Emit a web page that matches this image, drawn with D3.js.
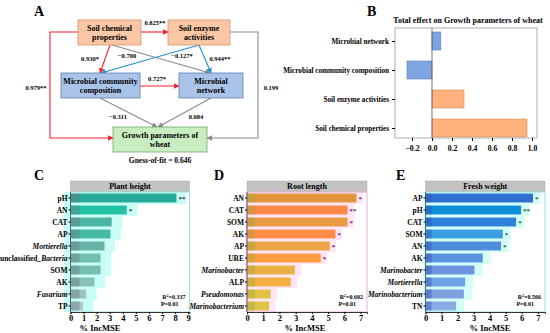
<!DOCTYPE html>
<html><head><meta charset="utf-8">
<script src="https://cdn.jsdelivr.net/npm/d3@7"></script>
<style>
body{margin:0;background:#fff;}
svg text{font-family:"Liberation Serif","Times New Roman",serif;font-weight:bold;fill:#000;}
</style></head><body>
<div id="chart"></div>
<script>
// ---- data ----
const pathCoefs = ["0.825**", "0.930*", "\u22120.700", "\u22120.127*", "0.944**", "0.727*", "\u22120.311", "0.084", "0.979**", "0.199"];
const fitLabel = "Gness-of-fit = 0.646";

const effectCats = ["Microbial network", "Microbial community composition", "Soil enzyme activities", "Soil chemical properties"];
const effectVals = [0.088, -0.25, 0.32, 0.95];
const effectTicks = [-0.2, 0, 0.2, 0.4, 0.6, 0.8, 1.0];

const heightCats = ["pH", "AN", "CAT", "AP", "Mortierella", "unclassified_Bacteria", "SOM", "AK", "Fusarium", "TP"];
const heightVals = [8.1, 4.3, 3.15, 3.05, 2.6, 2.3, 2.3, 1.83, 1.2, 0.95];
const heightSig = ["**", "*", "", "", "", "", "", "", "", ""];

const rootCats = ["AN", "CAT", "SOM", "AK", "AP", "URE", "Marinobacter", "ALP", "Pseudomonas", "Marinobacterium"];
const rootVals = [6.75, 6.2, 6.2, 5.46, 5.1, 4.55, 2.95, 2.7, 1.46, 1.36];
const rootSig = ["*", "**", "*", "*", "*", "*", "", "", "", ""];

const weightCats = ["AP", "pH", "CAT", "SOM", "AN", "AK", "Marinobacter", "Mortierella", "Marinobacterium", "TN"];
const weightVals = [6.7, 5.96, 5.65, 4.82, 4.71, 3.57, 3.05, 2.47, 2.39, 1.91];
const weightSig = ["*", "**", "*", "*", "*", "", "", "", "", ""];

const imseTicks = [0, 1, 2, 3, 4, 5, 6, 7, 8, 9];
const genera = ["Mortierella", "Fusarium", "Marinobacter", "Pseudomonas", "Marinobacterium", "Bacteria"];

const W = 550, H = 333;
const svg = d3.select("#chart").append("svg").attr("width", W).attr("height", H);
const defs = svg.append("defs");

// panel letters
[["A", 34, 16], ["B", 367, 16], ["C", 34, 180], ["D", 214, 180], ["E", 396, 180]].forEach(d => {
  svg.append("text").attr("x", d[1]).attr("y", d[2]).text(d[0]).style("font-size", "14px");
});

// ================= Panel A : path diagram =================
const red = "#f5222d", blue = "#1e90d0", gray = "#8a8a8a";
[["red", red], ["blue", blue], ["gray", gray]].forEach(m => {
  defs.append("marker").attr("id", "arr-" + m[0])
    .attr("viewBox", "0 0 10 10").attr("refX", 9).attr("refY", 5)
    .attr("markerWidth", 5).attr("markerHeight", 5).attr("orient", "auto")
    .append("path").attr("d", "M0,0L10,5L0,10z").attr("fill", m[1]);
});

const nodes = {
  chem: { x: 78, y: 20, w: 63, h: 25, lines: ["Soil chemical", "properties"], fill: "#f9c7a6", stroke: "#d9916a" },
  enz: { x: 168, y: 20, w: 62, h: 25, lines: ["Soil enzyme", "activities"], fill: "#f9c7a6", stroke: "#d9916a" },
  mcc: { x: 61, y: 73, w: 79, h: 25, lines: ["Microbial community", "composition"], fill: "#a9c3e9", stroke: "#5f7fb0" },
  net: { x: 179, y: 73, w: 64, h: 25, lines: ["Microbial", "network"], fill: "#a9c3e9", stroke: "#5f7fb0" },
  growth: { x: 113, y: 127, w: 94, h: 25, lines: ["Growth parameters of", "wheat"], fill: "#c8edc0", stroke: "#78a870" }
};

const edges = [
  { pts: [[141, 32], [168, 32]], c: "red", lx: 155, ly: 25 },
  { pts: [[110, 45], [100, 73]], c: "red", lx: 90, ly: 61 },
  { pts: [[112, 45], [210, 73]], c: "gray", lx: 127, ly: 58 },
  { pts: [[199, 45], [101, 73]], c: "blue", lx: 182, ly: 58 },
  { pts: [[199, 45], [211, 73]], c: "blue", lx: 220, ly: 61 },
  { pts: [[140, 86], [179, 86]], c: "red", lx: 157, ly: 81 },
  { pts: [[100, 98], [157, 127]], c: "gray", lx: 118, ly: 119 },
  { pts: [[211, 98], [158, 127]], c: "gray", lx: 196, ly: 119 },
  { pts: [[78, 32], [50, 32], [50, 138], [113, 138]], c: "red", lx: 36, ly: 90 },
  { pts: [[230, 32], [258, 32], [258, 138], [207, 138]], c: "gray", lx: 271, ly: 90 }
];
const colorOf = { red: red, blue: blue, gray: gray };
const line = d3.line();

edges.forEach((e, i) => {
  svg.append("path").attr("d", line(e.pts)).attr("fill", "none")
    .attr("stroke", colorOf[e.c]).attr("stroke-width", 1.1)
    .attr("marker-end", "url(#arr-" + e.c + ")");
});

Object.values(nodes).forEach(n => {
  svg.append("rect").attr("x", n.x).attr("y", n.y).attr("width", n.w).attr("height", n.h)
    .attr("fill", n.fill).attr("stroke", n.stroke).attr("stroke-width", 0.8);
  n.lines.forEach((t, j) => {
    svg.append("text").attr("x", n.x + n.w / 2).attr("y", n.y + 11 + j * 9)
      .attr("text-anchor", "middle").style("font-size", "8px").text(t);
  });
});

edges.forEach((e, i) => {
  svg.append("text").attr("x", e.lx).attr("y", e.ly).attr("text-anchor", "middle")
    .style("font-size", "6.5px").text(pathCoefs[i]);
});
svg.append("text").attr("x", 160).attr("y", 163).attr("text-anchor", "middle")
  .style("font-size", "7.5px").text(fitLabel);

// ================= Panel B : total effect =================
const bx = d3.scaleLinear().domain([-0.37, 1.05]).range([395, 537]);
const by = d3.scalePoint().domain(effectCats).range([41, 128]);
const bTop = 28, bBot = 138;

svg.append("text").attr("x", 468).attr("y", 23).attr("text-anchor", "middle")
  .style("font-size", "8px").text("Total effect on Growth parameters of wheat");

svg.append("g").selectAll("rect").data(effectVals).enter().append("rect")
  .attr("x", d => bx(Math.min(0, d)))
  .attr("width", d => Math.abs(bx(d) - bx(0)))
  .attr("y", (d, i) => by(effectCats[i]) - 9)
  .attr("height", 18)
  .attr("fill", (d, i) => i < 2 ? "#7ea5e0" : "#ffb27e")
  .attr("stroke", (d, i) => i < 2 ? "#5a7fbf" : "#cf8a5c")
  .attr("stroke-width", 0.6);

svg.append("line").attr("x1", bx(0)).attr("x2", bx(0)).attr("y1", bTop).attr("y2", bBot)
  .attr("stroke", "#555").attr("stroke-width", 0.8);
svg.append("rect").attr("x", 395).attr("y", bTop).attr("width", 142).attr("height", bBot - bTop)
  .attr("fill", "none").attr("stroke", "#999").attr("stroke-width", 0.8);

const bxAxis = svg.append("g").attr("transform", `translate(0,${bBot})`)
  .call(d3.axisBottom(bx).tickValues(effectTicks).tickFormat(d3.format(".1f")).tickSize(3));
bxAxis.select(".domain").remove();
bxAxis.selectAll("text").style("font-size", "7.8px").attr("dy", "0.9em");
const byAxis = svg.append("g").attr("transform", "translate(395,0)")
  .call(d3.axisLeft(by).tickSize(3));
byAxis.select(".domain").remove();
byAxis.selectAll("text").style("font-size", "7.2px");

// ================= Panels C, D, E : random forest importance =================
function labelText(sel, name) {
  const parts = name.split("_");
  parts.forEach((p, k) => {
    sel.append("tspan").text((k > 0 ? "_" : "") + p)
      .style("font-style", genera.includes(p) ? "italic" : "normal");
  });
}

function rfPanel(cfg) {
  const top = 192, bot = 312;
  const x = d3.scaleLinear().domain([0, cfg.max]).range([cfg.x0, cfg.x1]);
  const y = d3.scaleBand().domain(cfg.cats).range([top, bot]).paddingInner(0.26).paddingOuter(0.13);
  const g = svg.append("g");

  // strip title
  g.append("rect").attr("x", cfg.x0).attr("y", 181).attr("width", cfg.x1 - cfg.x0).attr("height", 10.5)
    .attr("fill", "#c2c2c2").attr("stroke", "#aaa").attr("stroke-width", 0.5);
  g.append("text").attr("x", (cfg.x0 + cfg.x1) / 2).attr("y", 189).attr("text-anchor", "middle")
    .style("font-size", "8px").text(cfg.title);

  // glow bands
  g.append("g").selectAll("rect").data(cfg.vals).enter().append("rect")
    .attr("x", cfg.x0 - cfg.glowLeft)
    .attr("width", d => Math.min(x(d + cfg.glowExtra), cfg.x1 - 3) - cfg.x0 + cfg.glowLeft)
    .attr("y", (d, i) => y(cfg.cats[i]) - y.step() * 0.13)
    .attr("height", y.step())
    .attr("fill", cfg.glow);

  // bars
  g.append("g").selectAll("rect").data(cfg.vals).enter().append("rect")
    .attr("x", x(0)).attr("width", d => x(d) - x(0))
    .attr("y", (d, i) => y(cfg.cats[i])).attr("height", y.bandwidth())
    .attr("fill", (d, i) => cfg.colors[i]);
  // darker left section
  g.append("g").selectAll("rect").data(cfg.vals).enter().append("rect")
    .attr("x", x(0)).attr("width", cfg.darkW)
    .attr("y", (d, i) => y(cfg.cats[i])).attr("height", y.bandwidth())
    .attr("fill", cfg.dark).attr("opacity", 0.45);

  // significance stars
  g.append("g").selectAll("text").data(cfg.vals).enter().append("text")
    .attr("x", d => x(d) + 2).attr("y", (d, i) => y(cfg.cats[i]) + y.bandwidth() / 2 + 3)
    .style("font-size", "7px").style("fill", cfg.starColor)
    .text((d, i) => cfg.sig[i]);

  // frame
  g.append("rect").attr("x", cfg.x0).attr("y", top).attr("width", cfg.x1 - cfg.x0).attr("height", bot - top)
    .attr("fill", "none").attr("stroke", cfg.frame).attr("stroke-width", 0.8);
  g.append("line").attr("x1", cfg.x0).attr("x2", cfg.x0).attr("y1", top).attr("y2", bot)
    .attr("stroke", "#333").attr("stroke-width", 0.7);

  const xa = g.append("g").attr("transform", `translate(0,${bot})`)
    .call(d3.axisBottom(x).tickValues(imseTicks.filter(t => t <= cfg.max)).tickSize(2));
  xa.select(".domain").attr("stroke", "#333");
  xa.selectAll("text").style("font-size", "8.5px").attr("y", 3).attr("dy", "0.72em");

  const ya = g.append("g").attr("transform", `translate(${cfg.x0},0)`)
    .call(d3.axisLeft(y).tickSize(2).tickFormat(""));
  ya.select(".domain").remove();
  ya.selectAll(".tick").append("text").attr("x", -3).attr("dy", "0.35em")
    .attr("text-anchor", "end").style("font-size", "7.5px")
    .each(function (d) { labelText(d3.select(this), d); });

  g.append("text").attr("x", cfg.titleX).attr("y", 331).attr("text-anchor", "middle")
    .style("font-size", "8.5px").text("% IncMSE");

  const r2 = g.append("text").attr("x", cfg.x1 - 4).attr("y", 299).attr("text-anchor", "end")
    .style("font-size", "6px");
  r2.append("tspan").text("R");
  r2.append("tspan").text("2").attr("dy", -2).style("font-size", "4px");
  r2.append("tspan").text("=" + cfg.r2).attr("dy", 2);
  g.append("text").attr("x", cfg.x1 - 4 - cfg.pShift).attr("y", 306).attr("text-anchor", "end")
    .style("font-size", "6px").text("P=0.01");
}

rfPanel({
  x0: 70.5, x1: 189.5, max: 9.1, cats: heightCats, vals: heightVals, sig: heightSig,
  title: "Plant height", r2: "0.337", pShift: 7, titleX: 100,
  colors: ["#25a898", "#22c2a2", "#4db3a2", "#47b8a4", "#68b2a8", "#6fbfb0", "#78bdb2", "#86c1b8", "#9ac3bd", "#aac9c5"],
  glow: "#c9fdf5", glowLeft: 7, glowExtra: 0.8, dark: "#6a7f8a", darkW: 9,
  starColor: "#333", frame: "#8fd9d2"
});
rfPanel({
  x0: 247, x1: 367, max: 7.4, cats: rootCats, vals: rootVals, sig: rootSig,
  title: "Root length", r2: "0.602", pShift: 7, titleX: 305,
  colors: ["#e2953c", "#ff8848", "#e99a42", "#ff8d45", "#eaa444", "#ff9d40", "#e9b042", "#f4b142", "#e4bf45", "#e2c34a"],
  glow: "#ffe6f4", glowLeft: 2, glowExtra: 0.4, dark: "#a6a640", darkW: 8,
  starColor: "#8a2070", frame: "#e39ad4"
});
rfPanel({
  x0: 425.5, x1: 545, max: 7.45, cats: weightCats, vals: weightVals, sig: weightSig,
  title: "Fresh weight", r2: "0.566", pShift: 7, titleX: 490,
  colors: ["#2f6fd0", "#0f8ed8", "#2f80d8", "#3a9ee0", "#4f8ddc", "#5a94e0", "#6b93e0", "#6fa4e4", "#7e9fe0", "#8babe5"],
  glow: "#d3fff6", glowLeft: 2, glowExtra: 0.5, dark: "#2f4fb0", darkW: 6,
  starColor: "#1f5f50", frame: "#8fd3e0"
});
</script>
</body></html>
